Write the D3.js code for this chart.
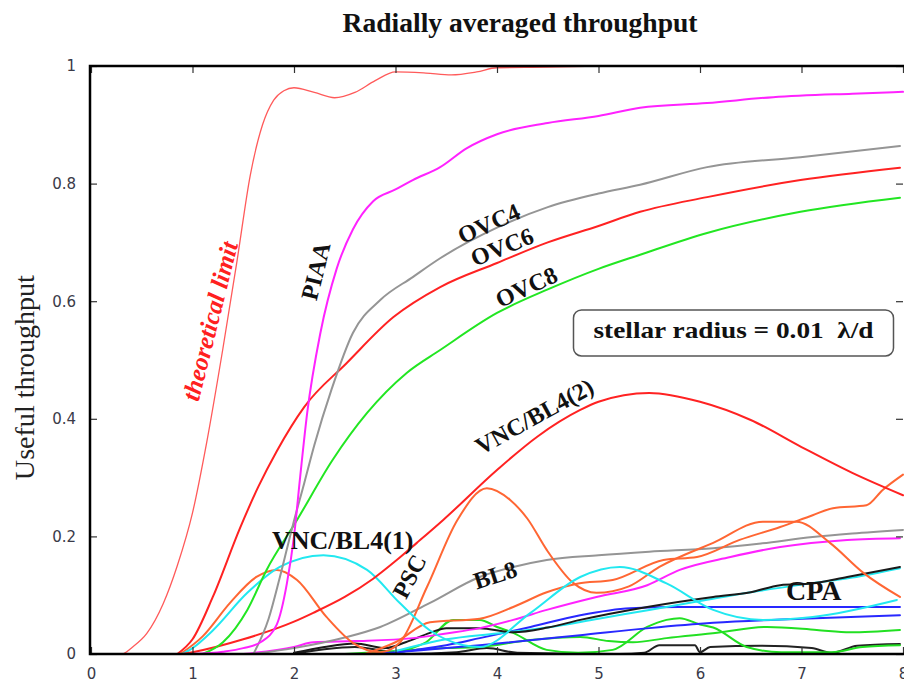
<!DOCTYPE html>
<html>
<head>
    <meta charset="utf-8">
    <title>Radially averaged throughput</title>
    <script src="https://d3js.org/d3.v7.min.js"></script>
    <style type="text/css">
        body { margin: 0; background: #fff; }
        .series { fill: none; stroke-linejoin: round; stroke-linecap: round; }
        .tick text { font-family: "DejaVu Sans", sans-serif; fill: #3a3a48; }
        .lbl { font-family: "Liberation Serif", serif; font-weight: bold; fill: #111; }
    </style>
</head>
<body>
<script type="text/javascript">
// x in lambda/d, y = useful throughput
const theoretical = [[0,0],[0.3,0],[0.41,0.012],[0.55,0.035],[0.71,0.085],[0.85,0.15],[1.0,0.24],[1.14,0.36],[1.3,0.52],[1.44,0.67],[1.57,0.815],[1.69,0.9],[1.8,0.942],[1.9,0.958],[2.0,0.963],[2.2,0.955],[2.4,0.946],[2.6,0.955],[2.8,0.975],[3.0,0.99],[3.3,0.988],[3.55,0.985],[3.8,0.99],[4.0,0.997],[4.5,0.998],[5.0,1.0]];
const piaa = [[1.0,0],[1.3,0.004],[1.5,0.01],[1.67,0.02],[1.83,0.05],[1.93,0.12],[2.0,0.2],[2.06,0.3],[2.13,0.41],[2.26,0.546],[2.42,0.655],[2.58,0.722],[2.78,0.77],[3.0,0.79],[3.17,0.806],[3.44,0.828],[3.7,0.86],[4.0,0.884],[4.5,0.903],[5.0,0.915],[5.41,0.929],[6.07,0.937],[6.72,0.947],[7.5,0.953],[8.0,0.956]];
const ovc4 = [[1.6,0],[1.75,0.06],[1.86,0.13],[1.99,0.22],[2.1,0.29],[2.2,0.355],[2.37,0.45],[2.58,0.546],[2.85,0.602],[3.17,0.641],[3.44,0.673],[4.0,0.725],[4.5,0.76],[5.0,0.783],[5.41,0.798],[6.07,0.828],[6.99,0.845],[7.97,0.864]];
const ovc6 = [[0.85,0],[1.0,0.025],[1.2,0.097],[1.47,0.215],[1.65,0.285],[1.83,0.345],[2.1,0.42],[2.52,0.495],[2.98,0.573],[3.44,0.624],[4.0,0.665],[4.5,0.70],[5.0,0.728],[5.41,0.752],[6.07,0.777],[6.99,0.806],[7.97,0.827]];
const ovc8 = [[1.1,0],[1.3,0.02],[1.54,0.075],[1.73,0.143],[2.03,0.228],[2.38,0.33],[2.72,0.41],[3.11,0.478],[3.44,0.517],[4.0,0.58],[4.5,0.62],[5.0,0.655],[5.41,0.679],[6.07,0.716],[6.99,0.752],[7.97,0.776]];
const vncBl4_2 = [[0.9,0],[1.0,0.003],[1.5,0.025],[2.0,0.055],[2.19,0.07],[2.5,0.097],[2.78,0.128],[3.0,0.158],[3.21,0.189],[3.47,0.228],[4.0,0.313],[4.4,0.37],[4.82,0.415],[5.0,0.429],[5.5,0.444],[6.0,0.429],[6.5,0.398],[7.0,0.352],[7.5,0.308],[8.0,0.27]];
const vncBl4_1 = [[0.9,0],[1.0,0.01],[1.2,0.04],[1.54,0.104],[1.86,0.148],[2.29,0.168],[2.72,0.143],[3.04,0.087],[3.34,0.04],[3.67,0.015],[3.83,0.012],[4.33,0.07],[4.82,0.131],[5.21,0.148],[5.67,0.12],[6.13,0.075],[6.62,0.058],[7.11,0.063],[7.94,0.092]];
const psc = [[0.88,0],[1.1,0.03],[1.37,0.087],[1.63,0.131],[1.83,0.143],[2.03,0.126],[2.32,0.063],[2.58,0.019],[2.85,0.003],[3.04,0.019],[3.31,0.114],[3.61,0.228],[3.9,0.282],[4.13,0.262],[4.3,0.23],[4.49,0.177],[4.75,0.121],[4.98,0.104],[5.3,0.115],[5.6,0.148],[6.13,0.189],[6.62,0.225],[6.95,0.225],[7.28,0.189],[7.61,0.138],[7.97,0.097]];
const orange2 = [[2.7,0],[3.0,0.02],[3.34,0.054],[3.83,0.06],[4.16,0.08],[4.49,0.105],[4.8,0.12],[5.14,0.126],[5.64,0.16],[5.97,0.165],[6.39,0.194],[6.79,0.216],[7.11,0.236],[7.31,0.248],[7.64,0.253],[7.8,0.279],[8.0,0.305]];
const bl8 = [[1.6,0],[2.0,0.01],[2.5,0.028],[2.85,0.046],[3.34,0.087],[3.83,0.131],[4.16,0.148],[4.49,0.16],[5.0,0.168],[5.5,0.174],[6.13,0.18],[6.6,0.188],[7.11,0.199],[7.5,0.205],[8.0,0.211]];
const magentaLow = [[1.5,0],[2.0,0.012],[2.19,0.02],[2.6,0.022],[3.17,0.027],[3.5,0.035],[3.83,0.044],[4.16,0.058],[4.49,0.075],[4.98,0.097],[5.48,0.117],[5.8,0.143],[6.3,0.165],[6.79,0.182],[7.45,0.194],[7.97,0.197]];
const cpa = [[2.0,0.002],[2.3,0.012],[2.6,0.018],[2.9,0.01],[3.1,0.02],[3.34,0.036],[3.5,0.044],[3.83,0.044],[4.16,0.037],[4.5,0.045],[4.82,0.058],[5.48,0.08],[6.13,0.097],[6.5,0.105],[6.79,0.117],[7.1,0.12],[7.45,0.131],[7.97,0.148]];
const cyan2 = [[3.0,0.005],[3.5,0.025],[4.0,0.035],[4.5,0.045],[5.0,0.06],[5.5,0.075],[6.0,0.09],[6.5,0.105],[7.0,0.118],[7.5,0.13],[7.97,0.146]];
const blue1 = [[2.9,0],[3.2,0.007],[3.5,0.015],[3.83,0.027],[4.33,0.046],[4.82,0.066],[5.31,0.078],[5.8,0.08],[7.97,0.08]];
const blue2 = [[2.8,0],[3.0,0.003],[3.5,0.01],[3.83,0.015],[4.82,0.032],[5.5,0.044],[6.13,0.053],[7.0,0.06],[7.97,0.066]];
const green1 = [[3.0,0.003],[3.3,0.02],[3.57,0.058],[3.83,0.058],[4.0,0.046],[4.16,0.036],[4.49,0.007],[4.8,0.002],[5.14,0.007],[5.48,0.046],[5.67,0.058],[5.8,0.061],[6.0,0.05],[6.13,0.045],[6.46,0.012],[6.8,0.003],[7.3,0.003],[7.6,0.012],[7.97,0.015]];
const green2 = [[2.5,0],[3.0,0.005],[3.5,0.01],[3.83,0.012],[4.33,0.024],[4.82,0.029],[5.1,0.022],[5.34,0.02],[5.67,0.027],[6.17,0.036],[6.66,0.046],[7.15,0.041],[7.48,0.037],[7.97,0.041]];
const blackLow = [[2.0,0],[2.3,0.008],[2.6,0.012],[2.9,0.005],[3.1,0],[3.6,0.003],[3.9,0.01],[4.2,0.002],[5.2,0],[5.45,0.002],[5.6,0.015],[5.95,0.015],[6.0,0.003],[6.1,0.012],[6.6,0.014],[7.1,0.01],[7.3,0.002],[7.55,0.014],[7.97,0.017]];

const xTicks = [0,1,2,3,4,5,6,7,8];
const yTicks = [0,0.2,0.4,0.6,0.8,1];

const series = [
    {data: theoretical, color: "#ff5a5a", w: 1.3},
    {data: blackLow, color: "#222", w: 2},
    {data: green2, color: "#22e022", w: 2},
    {data: green1, color: "#22e022", w: 2},
    {data: blue2, color: "#2828ff", w: 2},
    {data: blue1, color: "#2828ff", w: 2},
    {data: cyan2, color: "#22e8f0", w: 2},
    {data: cpa, color: "#1a1a1a", w: 2},
    {data: magentaLow, color: "#ff22ff", w: 2},
    {data: bl8, color: "#959595", w: 2},
    {data: orange2, color: "#ff6633", w: 2},
    {data: psc, color: "#ff6633", w: 2},
    {data: vncBl4_1, color: "#22e8f0", w: 2},
    {data: vncBl4_2, color: "#ff2222", w: 2},
    {data: ovc8, color: "#22e622", w: 2},
    {data: ovc6, color: "#ff2222", w: 2},
    {data: ovc4, color: "#959595", w: 2},
    {data: piaa, color: "#ff22ff", w: 2}
];

// curve labels, anchored in data space
const labels = [
    {text: "theoretical limit", x: 1.2, y: 0.565, rot: -76, color: "#ff2020", italic: true, size: 25},
    {text: "PIAA", x: 2.24, y: 0.65, rot: -76, size: 24},
    {text: "OVC4", x: 3.93, y: 0.728, rot: -24, size: 24},
    {text: "OVC6", x: 4.06, y: 0.688, rot: -22, size: 24},
    {text: "OVC8", x: 4.3, y: 0.62, rot: -25, size: 24},
    {text: "VNC/BL4(2)", x: 4.38, y: 0.4, rot: -29, size: 24},
    {text: "VNC/BL4(1)", x: 2.48, y: 0.188, rot: 0, size: 26},
    {text: "PSC", x: 3.16, y: 0.13, rot: -62, size: 24},
    {text: "BL8", x: 3.99, y: 0.13, rot: -18, size: 24},
    {text: "CPA", x: 7.12, y: 0.102, rot: 0, size: 28}
];

const width = 904, height = 682;
const svg = d3.select("body").append("svg")
    .attr("width", width)
    .attr("height", height);

const x = d3.scaleLinear().domain([0, 8]).range([91, 903]);
const y = d3.scaleLinear().domain([0, 1]).range([654, 66]);

const line = d3.line()
    .x(d => x(d[0]))
    .y(d => y(d[1]))
    .curve(d3.curveMonotoneX);

const plot = svg.append("g");
plot.selectAll("path.series")
    .data(series)
    .join("path")
    .attr("class", "series")
    .attr("d", d => line(d.data))
    .attr("stroke", d => d.color)
    .attr("stroke-width", d => d.w);

// axes: ticks pointing inward on all four sides
const axisStyle = g => {
    g.select(".domain").remove();
    g.selectAll(".tick line").attr("stroke", "#333").attr("stroke-width", 1.2);
};
svg.append("g")
    .attr("transform", `translate(0,${y(0)})`)
    .call(d3.axisBottom(x).tickValues(xTicks).tickFormat(d3.format("d")).tickSize(-7).tickPadding(14))
    .call(axisStyle)
    .selectAll("text").style("font-size", "15px");
svg.append("g")
    .attr("transform", `translate(0,${y(1)})`)
    .call(d3.axisTop(x).tickValues(xTicks).tickSize(-7).tickFormat(""))
    .call(axisStyle);
svg.append("g")
    .attr("transform", `translate(${x(0) - 1},0)`)
    .call(d3.axisLeft(y).tickValues(yTicks).tickFormat(d => d === 0 || d === 1 ? d : d.toFixed(1)).tickSize(-7).tickPadding(14))
    .call(axisStyle)
    .selectAll("text").style("font-size", "15px");
svg.append("g")
    .attr("transform", `translate(${x(8)},0)`)
    .call(d3.axisRight(y).tickValues(yTicks).tickSize(-7).tickFormat(""))
    .call(axisStyle);

// frame (right edge falls outside the picture)
svg.append("path")
    .attr("d", `M${x(8) + 1},${y(1)}H${x(0) - 1}V${y(0)}H${x(8) + 1}`)
    .attr("fill", "none")
    .attr("stroke", "#000")
    .attr("stroke-width", 2.5);

// curve labels
svg.append("g").selectAll("text")
    .data(labels)
    .join("text")
    .attr("class", "lbl")
    .attr("text-anchor", "middle")
    .attr("dominant-baseline", "middle")
    .attr("transform", d => `translate(${x(d.x)},${y(d.y)}) rotate(${d.rot})`)
    .style("font-size", d => d.size + "px")
    .style("font-style", d => d.italic ? "italic" : "normal")
    .style("fill", d => d.color || "#111")
    .text(d => d.text);

// note box
const note = svg.append("g").attr("transform", `translate(${x(6.33)},${y(0.546)})`);
note.append("rect")
    .attr("x", -160).attr("y", -23)
    .attr("width", 320).attr("height", 46)
    .attr("rx", 8)
    .attr("fill", "#fff")
    .attr("stroke", "#555")
    .attr("stroke-width", 1.5);
note.append("text")
    .attr("class", "lbl")
    .attr("text-anchor", "middle")
    .attr("dominant-baseline", "middle")
    .attr("textLength", 280)
    .attr("lengthAdjust", "spacingAndGlyphs")
    .style("font-size", "24px")
    .text("stellar radius = 0.01\u00a0\u00a0λ/d");

// title + y label
svg.append("text")
    .attr("x", 520).attr("y", 32)
    .attr("text-anchor", "middle")
    .attr("class", "lbl")
    .attr("textLength", 355)
    .attr("lengthAdjust", "spacingAndGlyphs")
    .style("font-size", "27px")
    .text("Radially averaged throughput");
svg.append("text")
    .attr("transform", `translate(34,${y(0.47)}) rotate(-90)`)
    .attr("text-anchor", "middle")
    .attr("textLength", 205)
    .attr("lengthAdjust", "spacingAndGlyphs")
    .style("font-family", "Liberation Serif, serif")
    .style("font-size", "27px")
    .style("fill", "#222")
    .text("Useful throughput");
</script>
</body>
</html>
